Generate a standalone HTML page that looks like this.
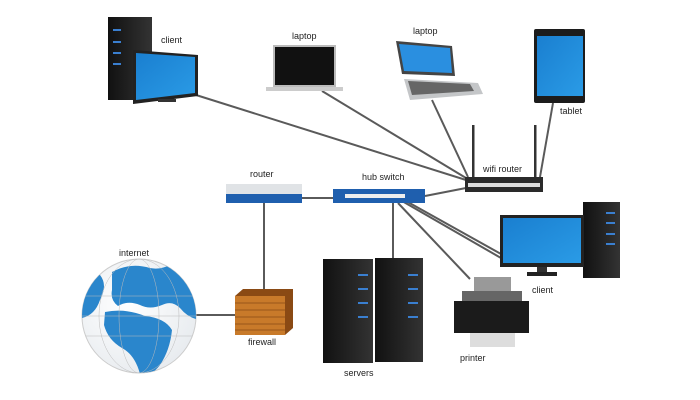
<!DOCTYPE html>
<html><head><meta charset="utf-8"><style>
html,body{margin:0;padding:0;background:#fff;width:700px;height:400px;overflow:hidden}
svg{display:block}
text{font-family:"Liberation Sans",sans-serif;font-size:9px;fill:#222}
</style></head><body>
<svg width="700" height="400" viewBox="0 0 700 400" xmlns="http://www.w3.org/2000/svg">
<defs>
<linearGradient id="blue" x1="0" y1="0" x2="1" y2="1"><stop offset="0" stop-color="#1a7fd0"/><stop offset="1" stop-color="#2a9be6"/></linearGradient>
<linearGradient id="blk" x1="0" y1="0" x2="1" y2="0"><stop offset="0" stop-color="#111"/><stop offset="1" stop-color="#333"/></linearGradient>
<radialGradient id="sea" cx="0.4" cy="0.4" r="0.7"><stop offset="0" stop-color="#fff"/><stop offset="1" stop-color="#e6eaee"/></radialGradient>
<clipPath id="gc"><circle cx="139" cy="316" r="57"/></clipPath>
</defs>
<g stroke="#5a5a5a" stroke-width="2" fill="none">
<line x1="196" y1="95" x2="466" y2="180"/>
<line x1="322" y1="91" x2="466" y2="178"/>
<line x1="432" y1="100" x2="468" y2="177"/>
<line x1="553" y1="103" x2="540" y2="177"/>
<line x1="425" y1="196" x2="466" y2="188"/>
<line x1="302" y1="198" x2="333" y2="198"/>
<line x1="264" y1="203" x2="264" y2="291"/>
<line x1="196" y1="315" x2="236" y2="315"/>
<line x1="393" y1="203" x2="393" y2="258"/>
<line x1="398" y1="203" x2="470" y2="279"/>
<line x1="402" y1="201" x2="501" y2="258"/>
<line x1="406" y1="201" x2="501" y2="254"/>
</g>
<!-- client top-left -->
<rect x="108" y="17" width="44" height="83" fill="url(#blk)"/>
<g fill="#3a7fd0"><rect x="113" y="29" width="8" height="2"/><rect x="113" y="41" width="8" height="2"/><rect x="113" y="52" width="8" height="2"/><rect x="113" y="63" width="8" height="2"/></g>
<polygon points="133,50 198,55 198,96 133,104" fill="#222"/>
<polygon points="136,53 195,57 195,93 136,100" fill="url(#blue)"/>
<rect x="158" y="99" width="18" height="3" fill="#333"/>
<text x="161" y="43">client</text>
<!-- laptop1 -->
<rect x="273" y="45" width="63" height="42" fill="#bbb"/>
<rect x="275" y="47" width="59" height="38" fill="#111"/>
<rect x="266" y="87" width="77" height="4" fill="#ccc"/>
<text x="292" y="39">laptop</text>
<!-- laptop2 -->
<polygon points="396,41 452,46 455,76 402,74" fill="#444"/>
<polygon points="399,44 450,48 452,73 404,71" fill="#2a8fe0"/>
<polygon points="404,79 478,83 483,94 410,100" fill="#c4c6c8"/>
<polygon points="408,81 470,84 474,91 412,95" fill="#666"/>
<text x="413" y="34">laptop</text>
<!-- tablet -->
<rect x="534" y="29" width="51" height="74" rx="2" fill="#1c1c1c"/>
<rect x="537" y="36" width="46" height="60" fill="url(#blue)"/>
<text x="560" y="114">tablet</text>
<!-- wifi router -->
<rect x="472" y="125" width="2.5" height="52" fill="#333"/>
<rect x="534" y="125" width="2.5" height="52" fill="#333"/>
<rect x="465" y="177" width="78" height="15" fill="#2a2a2a"/>
<rect x="468" y="183" width="72" height="4" fill="#ddd"/>
<text x="483" y="172">wifi router</text>
<!-- hub switch -->
<rect x="333" y="189" width="92" height="14" fill="#1f5fae"/>
<rect x="345" y="194" width="60" height="4" fill="#eee"/>
<text x="362" y="180">hub switch</text>
<!-- router -->
<rect x="226" y="184" width="76" height="10" fill="#e0e3e6"/>
<rect x="226" y="194" width="76" height="9" fill="#1f5fae"/>
<text x="250" y="177">router</text>
<!-- firewall -->
<polygon points="235,296 243,289 293,289 293,328 285,335 235,335" fill="#8a4a14"/>
<rect x="235" y="296" width="50" height="39" fill="#c87a2a"/>
<g stroke="#8a4a14" stroke-width="0.8"><line x1="235" y1="303" x2="285" y2="303"/><line x1="235" y1="310" x2="285" y2="310"/><line x1="235" y1="317" x2="285" y2="317"/><line x1="235" y1="324" x2="285" y2="324"/><line x1="235" y1="330" x2="285" y2="330"/></g>
<text x="248" y="345">firewall</text>
<!-- globe -->
<circle cx="139" cy="316" r="57" fill="url(#sea)" stroke="#ccc"/>
<g clip-path="url(#gc)" fill="#2a86cc">
<path d="M70,300 Q80,270 100,275 Q108,285 100,300 Q95,315 82,318 Z"/>
<path d="M112,272 Q130,262 150,268 Q160,270 170,265 Q190,270 200,290 L200,320 Q188,318 180,308 Q172,300 162,305 Q150,310 140,305 Q128,300 118,306 Q110,300 112,290 Z"/>
<path d="M105,312 Q125,308 145,316 Q165,318 172,330 Q170,350 160,365 Q150,378 140,374 Q135,355 122,348 Q108,340 104,325 Z"/>
</g>
<g clip-path="url(#gc)" stroke="#bbb" stroke-width="0.5" fill="none">
<ellipse cx="139" cy="316" rx="20" ry="57"/><ellipse cx="139" cy="316" rx="40" ry="57"/>
<line x1="80" y1="296" x2="198" y2="296"/><line x1="80" y1="316" x2="198" y2="316"/><line x1="80" y1="336" x2="198" y2="336"/>
</g>
<text x="119" y="256">internet</text>
<!-- servers -->
<rect x="323" y="259" width="50" height="104" fill="url(#blk)"/>
<rect x="375" y="258" width="48" height="104" fill="url(#blk)"/>
<g fill="#3a7fd0"><rect x="358" y="274" width="10" height="2"/><rect x="358" y="288" width="10" height="2"/><rect x="358" y="302" width="10" height="2"/><rect x="358" y="316" width="10" height="2"/><rect x="408" y="274" width="10" height="2"/><rect x="408" y="288" width="10" height="2"/><rect x="408" y="302" width="10" height="2"/><rect x="408" y="316" width="10" height="2"/></g>
<text x="344" y="376">servers</text>
<!-- printer -->
<rect x="474" y="277" width="37" height="14" fill="#999"/>
<rect x="462" y="291" width="60" height="10" fill="#666"/>
<rect x="454" y="301" width="75" height="32" fill="#1b1b1b"/>
<rect x="470" y="333" width="45" height="14" fill="#ddd"/>
<text x="460" y="361">printer</text>
<!-- client right -->
<rect x="583" y="202" width="37" height="76" fill="url(#blk)"/>
<g fill="#3a7fd0"><rect x="606" y="212" width="9" height="2"/><rect x="606" y="222" width="9" height="2"/><rect x="606" y="233" width="9" height="2"/><rect x="606" y="243" width="9" height="2"/></g>
<rect x="500" y="215" width="84" height="52" fill="#222"/>
<rect x="503" y="218" width="78" height="45" fill="url(#blue)"/>
<rect x="537" y="267" width="10" height="5" fill="#333"/>
<rect x="527" y="272" width="30" height="4" fill="#222"/>
<text x="532" y="293">client</text>
</svg>
</body></html>
